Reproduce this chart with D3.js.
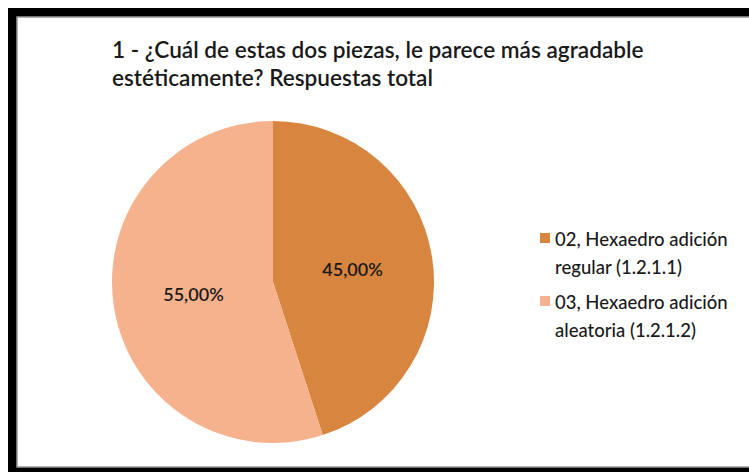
<!DOCTYPE html>
<html>
<head>
<meta charset="utf-8">
<script src="https://cdn.jsdelivr.net/npm/d3@7"></script>
<style>
  body { margin: 0; background: #fff; }
  svg { display: block; }
</style>
</head>
<body>
<div id="chart"></div>
<script>
// data
var categories = ["02, Hexaedro adición regular (1.2.1.1)", "03, Hexaedro adición aleatoria (1.2.1.2)"];
var legendLines = [["02, Hexaedro adición", "regular (1.2.1.1)"], ["03, Hexaedro adición", "aleatoria (1.2.1.2)"]];
var values = [45, 55];
var titleLines = ["1 - ¿Cuál de estas dos piezas, le parece más agradable", "estéticamente? Respuestas total"];

const color = ['#D7853F', '#F6B28D'];
var W = 749, H = 472;
var fmt = d => d3.format('.2f')(d).replace('.', ',') + '%';

var svg = d3.select('#chart').append('svg').attr('width', W).attr('height', H);

// frame
svg.append('rect').attr('x', 8).attr('y', 8).attr('width', W + 20).attr('height', H - 8).attr('fill', '#000');
svg.append('rect').attr('x', 17).attr('y', 17).attr('width', W).attr('height', H - 22).attr('fill', '#fff')
   .attr('stroke', '#999').attr('stroke-width', 1.5);

// title
svg.append('g').selectAll('text').data(titleLines).enter().append('text')
   .attr('x', 112).attr('y', (d, i) => 58 + i * 28)
   .style('font-family', 'Lato, sans-serif').style('font-size', '22.6px').style('font-weight', 600)
   .style('fill', '#1a1a1a')
   .text(d => d);

// pie
var cx = 273, cy = 282, r = 161;
var pie = d3.pie().sort(null).value(d => d);
var arc = d3.arc().innerRadius(0).outerRadius(r);
var g = svg.append('g').attr('transform', `translate(${cx},${cy})`);
var arcs = pie(values);
g.selectAll('path').data(arcs).enter().append('path')
  .attr('d', arc).attr('fill', (d, i) => color[i]);

var labelArc = d3.arc().innerRadius(r * 0.5).outerRadius(r * 0.5);
g.selectAll('text').data(arcs).enter().append('text')
  .attr('transform', d => { var c = labelArc.centroid(d); return `translate(${c[0]},${c[1]})`; })
  .attr('text-anchor', 'middle').attr('dy', '0.35em')
  .style('font-family', 'Lato, sans-serif').style('font-size', '18px').style('font-weight', 600)
  .style('fill', '#1a1a1a')
  .text(d => fmt(d.data));

// legend
var lg = svg.append('g').attr('transform', 'translate(540,230)');
var item = lg.selectAll('g').data(categories).enter().append('g')
  .attr('transform', (d, i) => `translate(0,${i * 63})`);
item.append('rect').attr('x', 0).attr('y', 3).attr('width', 10).attr('height', 10)
  .attr('fill', (d, i) => color[i]);
item.each(function(d, i) {
  d3.select(this).selectAll('text').data(legendLines[i]).enter().append('text')
    .attr('x', 15).attr('y', (t, j) => 16 + j * 28)
    .style('font-family', 'Lato, sans-serif').style('font-size', '18.5px').style('font-weight', 500)
    .style('fill', '#1a1a1a')
    .text(t => t);
});
</script>
</body>
</html>
